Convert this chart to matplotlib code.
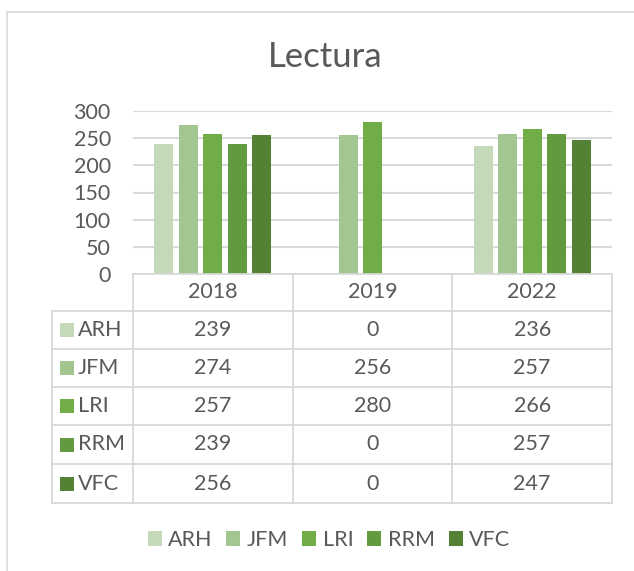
import matplotlib.pyplot as plt
import numpy as np
from matplotlib.lines import Line2D
from matplotlib.patches import Rectangle

plt.rcParams['font.family'] = ['Lato', 'DejaVu Sans']

# datos
years = ['2018', '2019', '2022']
series = ['ARH', 'JFM', 'LRI', 'RRM', 'VFC']
arh = [239, 0, 236]
jfm = [274, 256, 257]
lri = [257, 280, 266]
rrm = [239, 0, 257]
vfc = [256, 0, 247]
values = [arh, jfm, lri, rrm, vfc]
colors = ['#C4D8BA', '#A3C58F', '#70AD47', '#629A3F', '#548235']

W, H = 634, 571
txt = '#595959'
grid = '#D9D9D9'
fs = 15.5


def fx(x):
    return x / W


def fy(y):
    return 1 - y / H


fig = plt.figure(figsize=(W / 100, H / 100), dpi=100)

# borde del grafico
fig.add_artist(Rectangle((fx(7), fy(640)), fx(700), (640 - 12) / H, transform=fig.transFigure,
                         fill=False, edgecolor=grid, linewidth=1.2))

ax_l, ax_r, ax_t, ax_b = 133, 612, 111, 274
ax = fig.add_axes([fx(ax_l), fy(ax_b), fx(ax_r - ax_l), (ax_b - ax_t) / H])

x = np.arange(len(years))
step = 0.153
bw = 0.119
bars = []
for i, (name, vals) in enumerate(zip(series, values)):
    b = ax.bar(x + (i - 2) * step, vals, width=bw, color=colors[i], label=name, zorder=3)
    bars.append(b)

ax.set_xlim(-0.5, len(years) - 0.5)
ax.set_ylim(0, 300)
ax.set_yticks(np.arange(0, 301, 50))
ax.set_xticks([])
ax.yaxis.grid(True, color=grid, linewidth=1.5, zorder=0)
for s in ax.spines.values():
    s.set_visible(False)
ax.tick_params(axis='y', length=0, pad=16, labelsize=fs, labelcolor=txt)

fig.text(fx(325), fy(57), 'Lectura', ha='center', va='center', fontsize=25, color=txt)

# tabla de datos
row_y = [274, 311, 349, 387, 425, 464, 503]
col_x = [ax_l + k * (ax_r - ax_l) / len(years) for k in range(len(years) + 1)]
lab_l = 52
lw = 1.3


def hline(y, x0, x1):
    fig.add_artist(Line2D([fx(x0), fx(x1)], [fy(y), fy(y)], transform=fig.transFigure,
                          color=grid, linewidth=lw))


def vline(x0, y0, y1):
    fig.add_artist(Line2D([fx(x0), fx(x0)], [fy(y0), fy(y1)], transform=fig.transFigure,
                          color=grid, linewidth=lw))


hline(row_y[0], col_x[0], col_x[-1])
for y in row_y[1:]:
    hline(y, lab_l, col_x[-1])
for cx in col_x:
    vline(cx, row_y[0], row_y[-1])
vline(lab_l, row_y[1], row_y[-1])

for j, yr in enumerate(years):
    fig.text(fx((col_x[j] + col_x[j + 1]) / 2), fy((row_y[0] + row_y[1]) / 2), yr,
             ha='center', va='center', fontsize=fs, color=txt)

for i, (name, vals) in enumerate(zip(series, values)):
    yc = (row_y[i + 1] + row_y[i + 2]) / 2
    fig.add_artist(Rectangle((fx(60), fy(yc + 7)), fx(14), 14 / H, transform=fig.transFigure,
                             facecolor=colors[i], edgecolor='none'))
    fig.text(fx(78), fy(yc), name, ha='left', va='center', fontsize=fs, color=txt)
    for j, v in enumerate(vals):
        fig.text(fx((col_x[j] + col_x[j + 1]) / 2), fy(yc), str(v),
                 ha='center', va='center', fontsize=fs, color=txt)

fig.legend(handles=[b[0] for b in bars], labels=series, loc='center',
           bbox_to_anchor=(fx(329), fy(540)), ncol=5, frameon=False,
           handlelength=0.65, handleheight=0.65, handletextpad=0.3, columnspacing=0.65,
           fontsize=fs, labelcolor=txt)

fig.savefig('out.png', dpi=100)
